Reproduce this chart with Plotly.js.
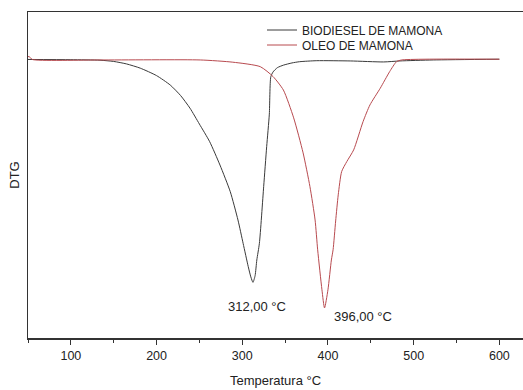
<!DOCTYPE html>
<html><head><meta charset="utf-8">
<script src="https://cdn.plot.ly/plotly-3.0.1.min.js"></script>
<style>html,body{margin:0;padding:0;background:#fff}</style>
</head><body><div id="chart" style="width:523px;height:390px"></div>
<script>
const biodieselT = [50, 100, 134, 150, 165, 181, 200, 216, 228, 239, 250, 262, 274, 286, 295, 301, 307, 310, 312.5, 315, 317, 320, 325, 328.5, 331.6, 333.3, 336, 341, 348, 358, 367, 387, 426, 465, 484, 523, 600];
const biodieselV = [0, -0.001, -0.003, -0.008, -0.018, -0.035, -0.065, -0.103, -0.145, -0.196, -0.26, -0.331, -0.425, -0.532, -0.646, -0.74, -0.834, -0.875, -0.897, -0.87, -0.807, -0.74, -0.512, -0.351, -0.22, -0.07, -0.05, -0.033, -0.023, -0.014, -0.009, -0.005, -0.006, -0.01, -0.006, -0.002, 0.001];
const oleoT = [50, 52, 55, 134, 251, 289, 321, 336, 348, 360, 371, 379, 385, 388, 393, 396, 400, 404, 406, 409, 412, 416, 422, 430, 441, 449, 461, 472, 480, 486, 600];
const oleoV = [0.012, 0.01, 0.0, -0.002, -0.002, -0.011, -0.029, -0.069, -0.123, -0.235, -0.376, -0.512, -0.646, -0.766, -0.927, -1.0, -0.927, -0.807, -0.766, -0.65, -0.545, -0.451, -0.411, -0.364, -0.25, -0.183, -0.116, -0.049, -0.009, -0.002, 0.001];
const seriesNames = ['BIODIESEL DE MAMONA', 'OLEO DE MAMONA'];
const peakLabels = ['312,00 °C', '396,00 °C'];
const peakT = [312, 396];
const peakV = [-0.897, -1.0];

const fam = 'Liberation Sans, Arial, sans-serif';
const txt = '#222';
const data = [
  {x: biodieselT, y: biodieselV, name: seriesNames[0], legend: 'legend', mode: 'lines', line: {color: '#3a3a3a', width: 1, shape: 'spline', smoothing: 0.6}},
  {x: oleoT, y: oleoV, name: seriesNames[1], legend: 'legend2', mode: 'lines', line: {color: '#b84a4f', width: 1, shape: 'spline', smoothing: 0.6}}
];
const legStyle = {xref: 'paper', yref: 'paper', xanchor: 'left', yanchor: 'middle', bgcolor: 'rgba(0,0,0,0)', borderwidth: 0, font: {family: fam, size: 12, color: txt}};
const layout = {
  width: 523, height: 390,
  margin: {l: 28, r: 0, t: 12, b: 52},
  paper_bgcolor: '#fff', plot_bgcolor: '#fff',
  font: {family: fam, size: 12, color: txt},
  showlegend: true,
  legend: Object.assign({}, legStyle, {x: (272 - 28 - 10) / 495, y: (338 - 30) / 326}),
  legend2: Object.assign({}, legStyle, {x: (272 - 28 - 10) / 495, y: (338 - 45) / 326}),
  xaxis: {
    range: [50, 627.6], tickvals: [100, 200, 300, 400, 500, 600], ticks: 'outside', ticklen: 5, tickcolor: '#333',
    minor: {tickvals: [50, 150, 250, 350, 450, 550], ticks: 'outside', ticklen: 3, tickcolor: '#333'},
    showline: true, linecolor: '#333', linewidth: 1.5, mirror: true, showgrid: false, zeroline: false,
    tickfont: {family: fam, size: 12.5, color: txt},
    title: {text: 'Temperatura °C', font: {family: fam, size: 13, color: txt}, standoff: 14}
  },
  yaxis: {
    range: [-1.121, 0.191], showticklabels: false, ticks: '', showgrid: false, zeroline: false,
    showline: true, linecolor: '#333', linewidth: 1.5, mirror: true,
    title: {text: 'DTG', font: {family: fam, size: 13, color: txt}, standoff: 4}
  },
  annotations: [
    {x: peakT[0], y: peakV[0], text: peakLabels[0], showarrow: false, xanchor: 'center', yanchor: 'middle', xshift: 4.5, yshift: -24, font: {family: fam, size: 13, color: txt}},
    {x: peakT[1], y: peakV[1], text: peakLabels[1], showarrow: false, xanchor: 'center', yanchor: 'middle', xshift: 38.5, yshift: -9, font: {family: fam, size: 13, color: txt}}
  ]
};
Plotly.newPlot('chart', data, layout, {displayModeBar: false, staticPlot: true});
</script></body></html>
